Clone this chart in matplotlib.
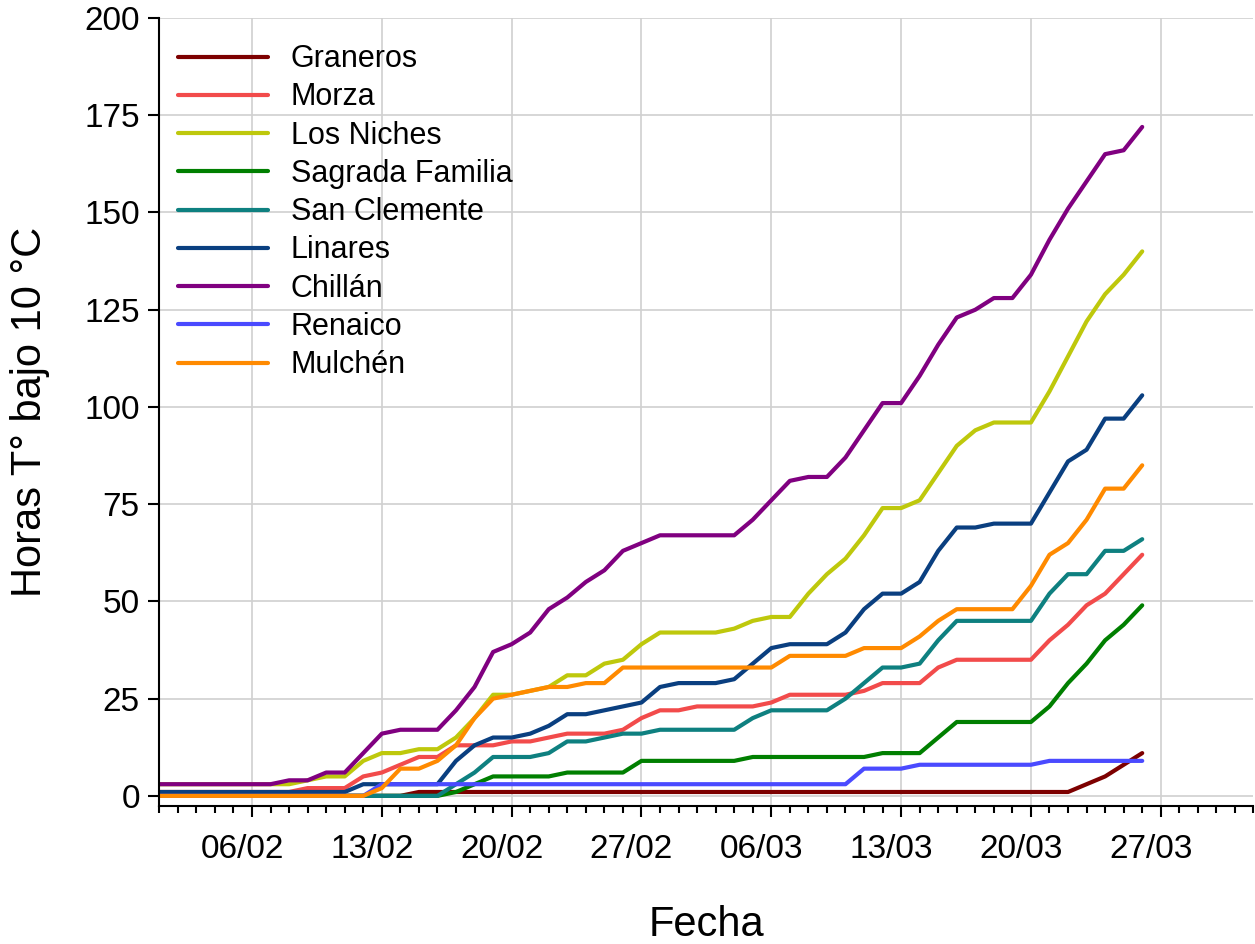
import datetime as dt

import numpy as np
import matplotlib
matplotlib.use("Agg")
import matplotlib.pyplot as plt
import matplotlib.dates as mdates
from matplotlib.transforms import ScaledTranslation

plt.rcParams['font.family'] = ['Liberation Sans', 'DejaVu Sans']

# one value per day, 01/02 .. 26/03
start = dt.date(2023, 2, 1)
n_days = 54
fechas = [start + dt.timedelta(days=i) for i in range(n_days)]

graneros = [0]*14 + [1]*36 + [3, 5, 8, 11]
morza = [1]*8 + [2, 2, 2, 5, 6, 8, 10, 10, 13, 13, 13, 14, 14, 15, 16, 16, 16, 17,
                 20, 22, 22, 23, 23, 23, 23, 24, 26, 26, 26, 26, 27, 29, 29, 29, 33,
                 35, 35, 35, 35, 35, 40, 44, 49, 52, 57, 62]
los_niches = [3]*8 + [4, 5, 5, 9, 11, 11, 12, 12, 15, 20, 26, 26, 27, 28, 31, 31, 34,
                      35, 39, 42, 42, 42, 42, 43, 45, 46, 46, 52, 57, 61, 67, 74, 74,
                      76, 83, 90, 94, 96, 96, 96, 104, 113, 122, 129, 134, 140]
sagrada = [0]*16 + [1, 3, 5, 5, 5, 5, 6, 6, 6, 6, 9, 9, 9, 9, 9, 9, 10, 10, 10, 10, 10,
                    10, 10, 11, 11, 11, 15, 19, 19, 19, 19, 19, 23, 29, 34, 40, 44, 49]
san_clemente = [0]*16 + [3, 6, 10, 10, 10, 11, 14, 14, 15, 16, 16, 17, 17, 17, 17, 17,
                         20, 22, 22, 22, 22, 25, 29, 33, 33, 34, 40, 45, 45, 45, 45,
                         45, 52, 57, 57, 63, 63, 66]
linares = [1]*11 + [3, 3, 3, 3, 3, 9, 13, 15, 15, 16, 18, 21, 21, 22, 23, 24, 28, 29,
                    29, 29, 30, 34, 38, 39, 39, 39, 42, 48, 52, 52, 55, 63, 69, 69, 70,
                    70, 70, 78, 86, 89, 97, 97, 103]
chillan = [3]*7 + [4, 4, 6, 6, 11, 16, 17, 17, 17, 22, 28, 37, 39, 42, 48, 51, 55, 58,
                   63, 65, 67, 67, 67, 67, 67, 71, 76, 81, 82, 82, 87, 94, 101, 101, 108,
                   116, 123, 125, 128, 128, 134, 143, 151, 158, 165, 166, 172]
renaico = [0]*12 + [3]*26 + [7, 7, 7] + [8]*7 + [9]*6
mulchen = [0]*12 + [2, 7, 7, 9, 13, 20, 25, 26, 27, 28, 28, 29, 29] + [33]*9 + \
    [36, 36, 36, 36, 38, 38, 38, 41, 45, 48, 48, 48, 48, 54, 62, 65, 71, 79, 79, 85]

series = [
    ("Graneros", graneros, "#7d0000"),
    ("Morza", morza, "#f24b4b"),
    ("Los Niches", los_niches, "#bec80c"),
    ("Sagrada Familia", sagrada, "#007f00"),
    ("San Clemente", san_clemente, "#0e8080"),
    ("Linares", linares, "#0a3f80"),
    ("Chillán", chillan, "#800080"),
    ("Renaico", renaico, "#4a4aff"),
    ("Mulchén", mulchen, "#ff8a00"),
]

fig = plt.figure(figsize=(12.55, 9.44), dpi=100)
ax = fig.add_axes([0.1269, 0.1462, 0.8719, 0.8347])

for name, vals, color in series:
    ax.plot(fechas, vals, color=color, lw=3, label=name, solid_capstyle='round',
            solid_joinstyle='round')

ax.set_xlim(dt.date(2023, 2, 1), dt.date(2023, 4, 1))
ax.set_ylim(-2.6, 200)
ax.set_yticks(np.arange(0, 201, 25))

ax.xaxis.set_major_locator(mdates.WeekdayLocator(byweekday=mdates.MO))
ax.xaxis.set_minor_locator(mdates.DayLocator())
ax.xaxis.set_major_formatter(mdates.DateFormatter("%d/%m"))

ax.grid(True, which='major', color='#d0d0d0', lw=1.2)
ax.set_axisbelow(True)
for side in ("top", "right"):
    ax.spines[side].set_visible(False)
for side in ("left", "bottom"):
    ax.spines[side].set_linewidth(1.5)

ax.tick_params(axis='both', which='major', labelsize=24, width=1.5, length=8)
ax.tick_params(axis='x', which='major', pad=12)
ax.tick_params(axis='y', which='major', pad=6)
ax.tick_params(axis='x', which='minor', width=1.5, length=5)

shift = ScaledTranslation(-10 / 100, 0, fig.dpi_scale_trans)
for lab in ax.get_xticklabels():
    lab.set_transform(lab.get_transform() + shift)

ax.set_xlabel("Fecha", fontsize=30)
ax.set_ylabel("Horas T° bajo 10 °C", fontsize=30)
ax.xaxis.set_label_coords(0.5, -0.126)
ax.yaxis.set_label_coords(-0.10, 0.5)

ax.legend(loc='upper left', bbox_to_anchor=(0.0, 0.99), frameon=False, fontsize=22,
          handlelength=2.95, handletextpad=0.75, labelspacing=0.27,
          borderpad=0.6, borderaxespad=0.0)

fig.savefig("out.png", dpi=100)
